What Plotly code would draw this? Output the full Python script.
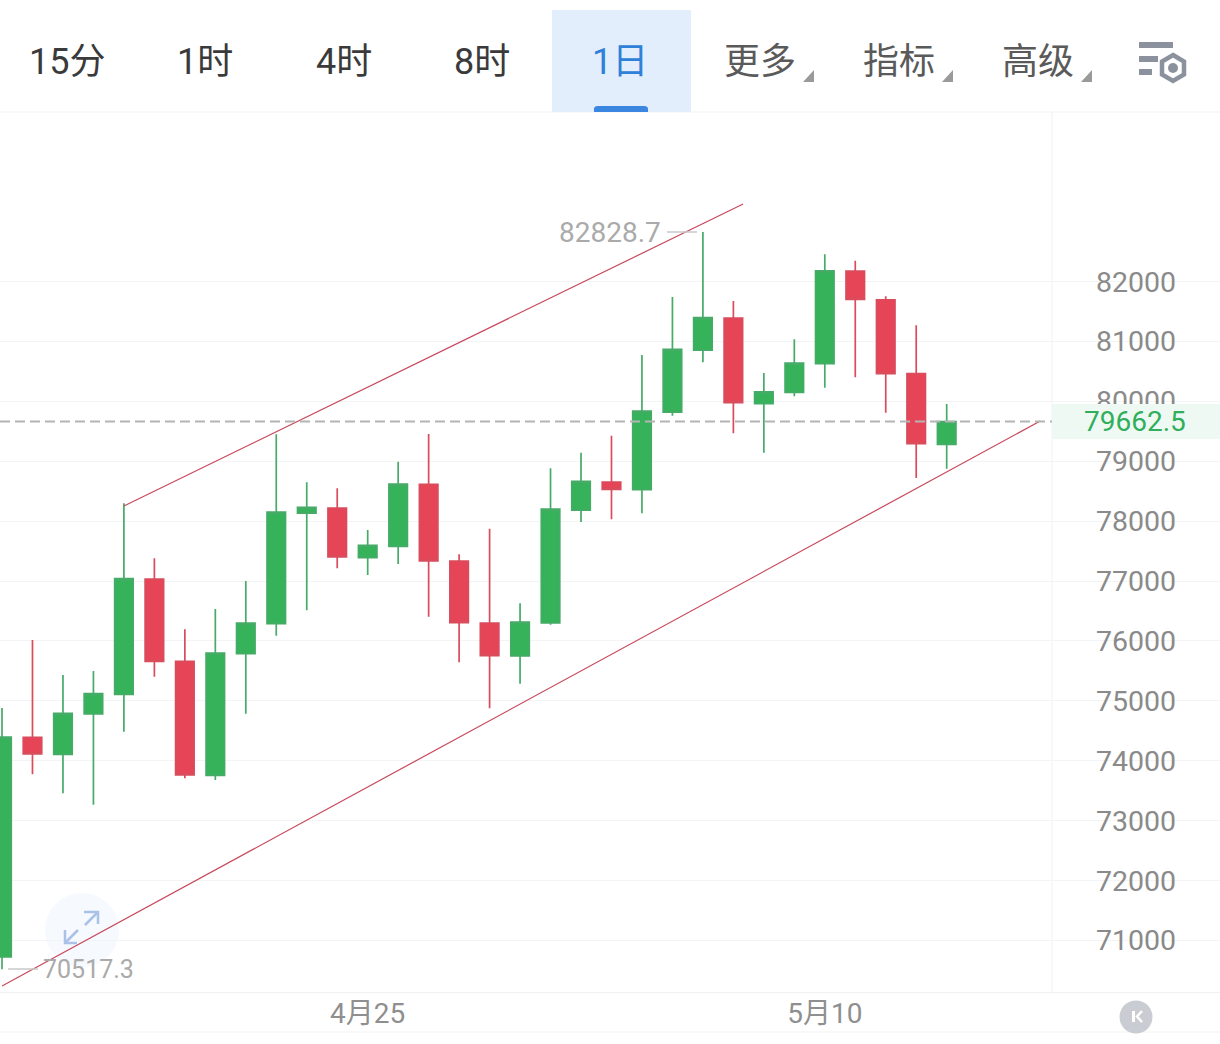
import plotly.graph_objects as go

W, H = 1220, 1044
T, B = 112, 992

dates = ["2025-04-%02d" % d for d in range(13, 31)] + ["2025-05-%02d" % d for d in range(1, 15)]
opens = [70723, 74391, 74107, 74780, 75109, 77034, 75660, 73756, 75786, 76287, 78135, 78219, 77389, 77579, 78614, 77334,
         76299, 75748, 76299, 78185, 78653, 78524, 79821, 80856, 81391, 79960, 80150, 80628, 82175, 81696, 80461, 79282]
highs = [74880, 76015, 75431, 75498, 78297, 77379, 76194, 76533, 77000, 79449, 78648, 78548, 77852, 78992, 79454, 77446,
         77873, 76628, 78882, 79142, 79426, 80773, 81741, 82828.7, 81674, 80472, 81035, 82454, 82347, 81753, 81269, 79955]
lows = [70517.3, 73773, 73456, 73266, 74484, 75403, 73706, 73678, 74785, 76087, 76511, 77212, 77100, 77284, 76404, 75643,
        74875, 75286, 76271, 77985, 78030, 78130, 79760, 80651, 79466, 79142, 80084, 80227, 80401, 79810, 78720, 78875]
closes = [74396, 74112, 74791, 75119, 77039, 75660, 73762, 75798, 76299, 78152, 78230, 77401, 77596, 78619, 77334, 76304,
          75753, 76316, 78202, 78665, 78531, 79838, 80868, 81396, 79977, 80160, 80639, 82180, 81703, 80461, 79292, 79662.5]

upper_x = ["2025-04-17 00:00", "2025-05-07 07:40"]
upper_y = [78252, 83294]
lower_x = ["2025-04-13 00:00", "2025-05-17 01:40"]
lower_y = [70239, 79671]
last_x = ["2025-04-12 22:25", "2025-05-17 11:00"]
last_y = [79662.5, 79662.5]

price_ticks = [71000, 72000, 73000, 74000, 75000, 76000, 77000, 78000, 79000, 80000, 81000, 82000]
date_ticks = ["2025-04-25", "2025-05-10"]
date_labels = ["4月25", "5月10"]
tabs = ["15分", "1时", "4时", "8时", "1日", "更多", "指标", "高级"]
tab_x = [67, 205, 344, 482, 620, 760, 899, 1038]

FONT = "Roboto, Noto Sans CJK SC"
GREEN, RED = "#35b25a", "#e64557"
WICK_GREEN, WICK_RED = "#45ab66", "#d84c5c"


def px(x):
    return x / W


def py(y):
    return (B - y) / (B - T)


def rect(x0, y0, x1, y1, fill, layer="above"):
    return dict(type="rect", xref="paper", yref="paper", x0=px(x0), x1=px(x1), y0=py(y0), y1=py(y1),
                fillcolor=fill, line=dict(width=0), layer=layer)


def hline(x0, x1, y, color, width=1, layer="above"):
    return dict(type="line", xref="paper", yref="paper", x0=px(x0), x1=px(x1), y0=py(y), y1=py(y),
                line=dict(color=color, width=width), layer=layer)


def vline(x, y0, y1, color, width=1, layer="above"):
    return dict(type="line", xref="paper", yref="paper", x0=px(x), x1=px(x), y0=py(y0), y1=py(y1),
                line=dict(color=color, width=width), layer=layer)


def poly(points, fill=None, line=None, width=1, close=True, layer="above"):
    path = "M" + " L".join("%.5f,%.5f" % (px(a), py(b)) for a, b in points) + (" Z" if close else "")
    return dict(type="path", xref="paper", yref="paper", path=path, fillcolor=fill or "rgba(0,0,0,0)",
                line=dict(color=line or "rgba(0,0,0,0)", width=width if line else 0), layer=layer)


def circle(cx, cy, r, fill, layer="above"):
    return dict(type="circle", xref="paper", yref="paper", x0=px(cx - r), x1=px(cx + r), y0=py(cy + r), y1=py(cy - r),
                fillcolor=fill, line=dict(width=0), layer=layer)


fig = go.Figure()
fig.add_trace(go.Candlestick(
    x=dates, open=opens, high=highs, low=lows, close=closes, whiskerwidth=0,
    increasing=dict(line=dict(color=WICK_GREEN, width=1.7), fillcolor=GREEN),
    decreasing=dict(line=dict(color=WICK_RED, width=1.7), fillcolor=RED),
    hoverinfo="skip",
))
for xs, ys in [(upper_x, upper_y), (lower_x, lower_y)]:
    fig.add_trace(go.Scatter(x=xs, y=ys, mode="lines", line=dict(color="#c8495c", width=1.2), hoverinfo="skip"))
fig.add_trace(go.Scatter(x=last_x, y=last_y, mode="lines", line=dict(color="#b4b4b4", width=2, dash="10px,5px"),
                         hoverinfo="skip"))

shapes = [
    rect(1065, T + 1, 1180, B - 1, "#ffffff", "between"),
    circle(82, 930, 37, "#f6f9fe", "between"),
    vline(1052, T, B, "#f0f1f2", 1, "between"),
    hline(0, W, T, "#f2f3f4"),
    hline(0, W, 1032, "#f2f3f4"),
    rect(1052, 404, W, 439, "#eff9f3"),
    rect(552, 10, 691, 112, "#e3eefc"),
    dict(type="path", xref="paper", yref="paper", fillcolor="#3a86e0", line=dict(width=0), layer="above",
         path="M%.5f,%.5f L%.5f,%.5f Q%.5f,%.5f %.5f,%.5f L%.5f,%.5f Q%.5f,%.5f %.5f,%.5f L%.5f,%.5f Z" % (
             px(594), py(112), px(594), py(109), px(594), py(106), px(598), py(106),
             px(644), py(106), px(648), py(106), px(648), py(109), px(648), py(112))),
    hline(667, 697, 232, "#c9c9c9", 1.5),
    hline(8, 38, 969, "#c9c9c9", 1.5),
    poly([(98, 912), (85, 925)], line="#aac2e8", width=2.5, close=False),
    poly([(84, 912), (98, 912), (98, 924)], line="#aac2e8", width=2.5, close=False),
    poly([(65, 943), (78, 930)], line="#aac2e8", width=2.5, close=False),
    poly([(65, 930), (65, 943), (77, 943)], line="#aac2e8", width=2.5, close=False),
    circle(1136, 1017, 16.5, "#c9ccd2"),
    rect(1132, 1011, 1135, 1022, "#ffffff"),
    poly([(1142, 1011), (1137, 1016.5), (1142, 1022)], line="#ffffff", width=2.5, close=False),
    rect(1139, 42, 1173, 48, "#8c929d"),
    rect(1139, 56, 1158, 62, "#8c929d"),
    rect(1139, 69, 1152, 75, "#8c929d"),
    poly([(1173, 55), (1184, 61.5), (1184, 74.5), (1173, 81), (1162, 74.5), (1162, 61.5)], line="#8c929d", width=4.5),
    circle(1173, 68, 5, "#8c929d"),
]
for x in (803, 942, 1081):
    shapes.append(poly([(x + 11, 70), (x + 11, 82), (x, 82)], fill="#9a9a9a"))

annotations = []
for label, x in zip(tabs, tab_x):
    color = "#2f80d8" if label == "1日" else ("#5a5a5a" if label in ("更多", "指标", "高级") else "#3a3a3a")
    annotations.append(dict(text=label, xref="paper", yref="paper", x=px(x), y=py(61), yshift=-1, xanchor="center",
                            yanchor="middle", showarrow=False, font=dict(family=FONT, size=36, color=color)))
annotations += [
    dict(text="82828.7", xref="x", yref="y", x=dates[23], y=highs[23], xanchor="right", yanchor="middle", xshift=-40,
         yshift=-1, showarrow=False, font=dict(family=FONT, size=28, color="#aaaaaa")),
    dict(text="70517.3", xref="x", yref="y", x=dates[0], y=lows[0], xanchor="left", yanchor="middle", xshift=39,
         yshift=0, showarrow=False, font=dict(family=FONT, size=25, color="#aaaaaa")),
    dict(text="79662.5", xref="paper", yref="y", x=px(1135), y=closes[-1], xanchor="center", yanchor="middle",
         yshift=0, showarrow=False, font=dict(family=FONT, size=28, color="#2fae5c")),
]

fig.update_layout(
    width=W, height=H, autosize=False, margin=dict(l=0, r=0, t=T, b=H - B, pad=0),
    paper_bgcolor="#ffffff", plot_bgcolor="#ffffff", showlegend=False, shapes=shapes, annotations=annotations,
    font=dict(family=FONT), boxgap=0.133, boxgroupgap=0.3,
    xaxis=dict(type="date", range=["2025-04-12 22:25", "2025-05-22 23:15"], rangeslider=dict(visible=False),
               showgrid=False, zeroline=False, showline=True, linecolor="#f0f1f2", linewidth=1,
               tickmode="array", tickvals=date_ticks, ticktext=date_labels, ticks="", ticklabelstandoff=-4,
               tickfont=dict(family=FONT, size=28, color="#8f8f8f")),
    yaxis=dict(range=[70139, 84830], side="right", tickmode="array", tickvals=price_ticks,
               ticklabelposition="inside", ticklabelstandoff=41, ticks="", showline=False, zeroline=False,
               gridcolor="#f3f4f5", gridwidth=1, tickformat="d",
               tickfont=dict(family=FONT, size=28.5, color="#8a8a8a")),
)
fig.write_html("out.html", config=dict(displayModeBar=False),
               post_script="document.body.style.margin='0';")
